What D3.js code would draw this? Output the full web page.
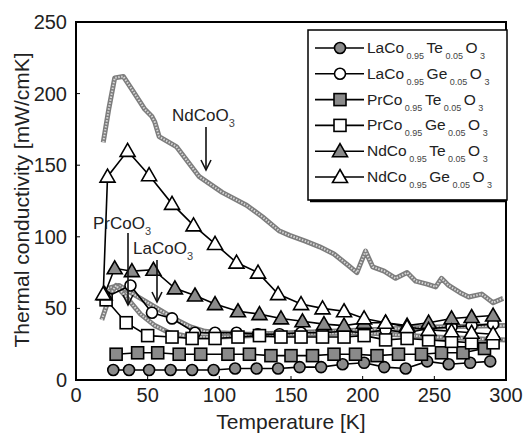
<!DOCTYPE html>
<html>
<head>
<meta charset="utf-8">
<script src="https://cdn.jsdelivr.net/npm/d3@7"></script>
<style>
  body { margin: 0; background: #fff; }
  svg { font-family: "Liberation Sans", Arial, sans-serif; }
</style>
</head>
<body>
<svg id="chart" width="527" height="434"></svg>
<script>
// [T (K), kappa (mW/cmK)]
const laTe = [[26,7],[37,7],[51,7],[66,7],[81,7],[96,7],[111,8],[126,8],[141,8],[156,9],[171,9],[186,11],[201,12],[215,9],[230,8],[245,13],[260,11],[275,12],[289,13]];
const laGe = [[21,58],[38,66],[53,47],[67,43],[83,33],[97,33],[112,33],[127,32],[142,32],[157,33],[172,33],[187,34],[201,33],[216,35],[231,33],[246,36],[262,37],[276,38],[291,39]];
const prTe = [[28,18],[43,19],[57,19],[72,18],[87,18],[106,18],[121,18],[136,17],[150,17],[165,17],[180,18],[195,18],[210,17],[225,18],[241,18],[255,19],[270,19],[285,22]];
const prGe = [[21,56],[35,40],[50,31],[67,30],[81,29],[97,29],[113,30],[128,31],[143,30],[157,30],[172,30],[187,30],[201,31],[216,28],[231,29],[246,28],[262,27],[276,26],[291,26]];
const ndTe = [[20,60],[27,78],[39,76],[54,77],[69,64],[83,59],[97,53],[113,48],[128,46],[143,43],[158,41],[173,39],[187,38],[201,40],[216,40],[231,38],[246,40],[262,43],[276,44],[291,45]];
const ndGe = [[19,60],[22,142],[36,160],[51,143],[67,123],[82,108],[97,95],[112,82],[127,75],[141,60],[157,53],[172,50],[187,48],[201,43],[216,40],[231,37],[246,35],[262,34],[276,33],[291,32]];

// undoped references (gray lines)
const ndRef = [[19,166],[23,190],[27,211],[33,212],[39,203],[48,189],[53,184],[55,180],[58,170],[70,163],[86,142],[102,131],[119,122],[130,114],[142,104],[149,101],[160,97],[170,93],[180,88],[190,80],[196,75],[202,90],[207,79],[215,76],[223,71],[231,75],[237,69],[245,67],[251,65],[255,71],[260,66],[268,61],[274,58],[283,60],[291,54],[298,57]];
const laRef = [[22,64],[30,66],[40,60],[50,54],[60,48],[70,42],[80,37],[90,34],[100,33],[120,32],[150,33],[200,35],[250,37],[300,38]];
const prRef = [[18,42],[24,60],[28,66],[35,58],[45,46],[55,38],[65,33],[80,30],[100,30],[150,32],[200,33],[250,30],[300,28]];

const xTicks = [0, 50, 100, 150, 200, 250, 300];
const yTicks = [0, 50, 100, 150, 200, 250];

const legendLabels = [
  [["LaCo",0],["0.95",1],["Te",0],["0.05",1],["O",0],["3",1]],
  [["LaCo",0],["0.95",1],["Ge",0],["0.05",1],["O",0],["3",1]],
  [["PrCo",0],["0.95",1],["Te",0],["0.05",1],["O",0],["3",1]],
  [["PrCo",0],["0.95",1],["Ge",0],["0.05",1],["O",0],["3",1]],
  [["NdCo",0],["0.95",1],["Te",0],["0.05",1],["O",0],["3",1]],
  [["NdCo",0],["0.95",1],["Ge",0],["0.05",1],["O",0],["3",1]]
];

const series = [
  { data: laTe, shape: "circle", filled: true },
  { data: laGe, shape: "circle", filled: false },
  { data: prTe, shape: "square", filled: true },
  { data: prGe, shape: "square", filled: false },
  { data: ndTe, shape: "triangle", filled: true },
  { data: ndGe, shape: "triangle", filled: false }
];

const svg = d3.select("#chart");
const x = d3.scaleLinear().domain([0, 300]).range([76, 506]);
const y = d3.scaleLinear().domain([0, 250]).range([380, 22]);

const line = d3.line().x(d => x(d[0])).y(d => y(d[1]));

// gray reference curves
[ndRef, laRef, prRef].forEach(ref => {
  svg.append("path").attr("d", line(ref)).attr("fill", "none")
    .attr("stroke", "#7d7d7d").attr("stroke-width", 5).attr("stroke-linejoin", "round");
  svg.append("path").attr("d", line(ref)).attr("fill", "none")
    .attr("stroke", "#d8d8d8").attr("stroke-width", 2).attr("stroke-dasharray", "1.5,1.5");
});

function marker(g, shape, filled, cx, cy) {
  const fill = filled ? "#8a8a8a" : "#fff";
  if (shape === "circle") {
    g.append("circle").attr("cx", cx).attr("cy", cy).attr("r", 5.5)
      .attr("fill", fill).attr("stroke", "#000").attr("stroke-width", 1.6);
  } else if (shape === "square") {
    g.append("rect").attr("x", cx - 6).attr("y", cy - 6).attr("width", 12).attr("height", 12)
      .attr("fill", fill).attr("stroke", "#000").attr("stroke-width", 1.6);
  } else {
    g.append("path").attr("d", `M${cx},${cy - 7.5}L${cx + 7.5},${cy + 5.5}L${cx - 7.5},${cy + 5.5}Z`)
      .attr("fill", fill).attr("stroke", "#000").attr("stroke-width", 1.6);
  }
}

series.forEach(s => {
  const g = svg.append("g");
  g.append("path").attr("d", line(s.data)).attr("fill", "none")
    .attr("stroke", "#000").attr("stroke-width", 1.6);
  s.data.forEach(d => marker(g, s.shape, s.filled, x(d[0]), y(d[1])));
});

// frame
svg.append("rect").attr("x", 76).attr("y", 22).attr("width", 430).attr("height", 358)
  .attr("fill", "none").attr("stroke", "#000").attr("stroke-width", 2);

// inward ticks
xTicks.forEach(t => {
  svg.append("line").attr("x1", x(t)).attr("x2", x(t)).attr("y1", 380).attr("y2", 376).attr("stroke", "#000");
  svg.append("text").attr("x", x(t)).attr("y", 402).attr("text-anchor", "middle")
    .attr("font-size", 20).attr("fill", "#222").text(t);
});
yTicks.forEach(t => {
  svg.append("line").attr("x1", 76).attr("x2", 80).attr("y1", y(t)).attr("y2", y(t)).attr("stroke", "#000");
  svg.append("text").attr("x", 67).attr("y", y(t) + 7).attr("text-anchor", "end")
    .attr("font-size", 20).attr("fill", "#222").text(t);
});

svg.append("text").attr("x", 291).attr("y", 429).attr("text-anchor", "middle")
  .attr("font-size", 21).attr("fill", "#222").text("Temperature [K]");
svg.append("text").attr("transform", "translate(29,200) rotate(-90)").attr("text-anchor", "middle")
  .attr("font-size", 21).attr("fill", "#222").text("Thermal conductivity [mW/cmK]");

// legend
const lg = svg.append("g");
lg.append("rect").attr("x", 308).attr("y", 30).attr("width", 199).attr("height", 170)
  .attr("fill", "#fff").attr("stroke", "#000").attr("stroke-width", 1.5);
lg.append("line").attr("x1", 310).attr("x2", 507).attr("y1", 201).attr("y2", 201)
  .attr("stroke", "#000").attr("stroke-width", 2.5);

function formula(sel, parts, big, small, gap) {
  parts.forEach(p => {
    sel.append("tspan").attr("font-size", p[1] ? small : big)
      .attr("dy", p[1] ? 6 : 0).text(p[1] && gap ? " " + p[0] : p[0])
      .attr("fill", p[1] ? "#444" : "#222");
    if (p[1]) sel.append("tspan").attr("dy", -6).attr("font-size", small).text(gap ? " " : "");
  });
}

legendLabels.forEach((lab, i) => {
  const cy = 48 + i * 25.8;
  lg.append("line").attr("x1", 315).attr("x2", 364).attr("y1", cy).attr("y2", cy)
    .attr("stroke", "#000").attr("stroke-width", 1.6);
  marker(lg, series[i].shape, series[i].filled, 340, cy);
  const t = lg.append("text").attr("x", 367).attr("y", cy + 5);
  formula(t, lab, 15.5, 9, true);
});

// annotations
function note(parts, tx, ty, ax, ay1, ay2) {
  const t = svg.append("text").attr("x", tx).attr("y", ty);
  formula(t, parts, 17, 11, false);
  svg.append("line").attr("x1", ax).attr("x2", ax).attr("y1", ay1).attr("y2", ay2)
    .attr("stroke", "#111").attr("stroke-width", 1.6);
  svg.append("path").attr("d", `M${ax - 5},${ay2 - 10}L${ax},${ay2}L${ax + 5},${ay2 - 10}`)
    .attr("fill", "none").attr("stroke", "#111").attr("stroke-width", 1.6);
}
note([["NdCoO",0],["3",1]], 172, 121, 206, 127, 170);
note([["PrCoO",0],["3",1]], 93, 229, 128, 233, 305);
note([["LaCoO",0],["3",1]], 133, 254, 157, 260, 302);
</script>
</body>
</html>
